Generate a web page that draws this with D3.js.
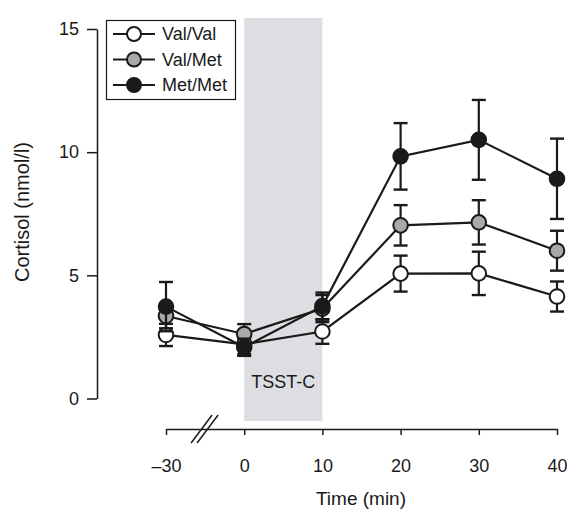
<!DOCTYPE html>
<html>
<head>
<meta charset="utf-8">
<script src="https://cdn.jsdelivr.net/npm/d3@7"></script>
<style>
  body { margin: 0; background: #fff; }
  svg text { font-family: "Liberation Sans", Arial, sans-serif; fill: #1a1a1a; }
</style>
</head>
<body>
<svg id="chart" width="567" height="511"></svg>
<script>
// 時間点（-30 は軸の切れ目の前）
const times = ['-30', '0', '10', '20', '30', '40'];
const timeLabels = ['\u201330', '0', '10', '20', '30', '40'];
const yTicks = [0, 5, 10, 15];

const groups = ['Val/Val', 'Val/Met', 'Met/Met'];
const fills = ['#ffffff', '#a9a9a9', '#1a1a1a'];

// 平均値と誤差
const valVal = [2.58, 2.2, 2.72, 5.07, 5.08, 4.14];
const valValErr = [0.45, 0.4, 0.5, 0.73, 0.88, 0.61];
const valMet = [3.35, 2.62, 3.65, 7.03, 7.15, 6.0];
const valMetErr = [0.5, 0.4, 0.55, 0.82, 0.9, 0.81];
const metMet = [3.73, 2.08, 3.75, 9.83, 10.5, 8.92];
const metMetErr = [1.0, 0.35, 0.55, 1.35, 1.62, 1.63];

const seriesValues = [valVal, valMet, metMet];
const seriesErrors = [valValErr, valMetErr, metMetErr];

const ink = '#1a1a1a';
const svg = d3.select('#chart');

const x = d3.scalePoint().domain(times).range([166, 557]);
const y = d3.scaleLinear().domain([0, 15]).range([398.5, 29]);

// TSST-C の区間
svg.append('rect')
  .attr('x', x('0'))
  .attr('width', x('10') - x('0'))
  .attr('y', 18)
  .attr('height', 403)
  .attr('fill', '#dddee1');

svg.append('text')
  .attr('x', (x('0') + x('10')) / 2)
  .attr('y', 388)
  .attr('text-anchor', 'middle')
  .style('font-size', '18px')
  .text('TSST-C');

// Y軸
const yAxis = svg.append('g')
  .attr('transform', 'translate(97,0)')
  .call(d3.axisLeft(y).tickValues(yTicks).tickSize(10).tickPadding(8).tickSizeOuter(0));
yAxis.select('.domain').attr('stroke', ink).attr('stroke-width', 1.5);
yAxis.selectAll('.tick line').attr('stroke', ink).attr('stroke-width', 1.5);
yAxis.selectAll('.tick text').style('font-size', '18px').attr('fill', ink);

// X軸
const xAxis = svg.append('g')
  .attr('transform', 'translate(0,429)')
  .call(d3.axisBottom(x).tickSize(6).tickPadding(24).tickSizeOuter(0)
    .tickFormat((d, i) => timeLabels[i]));
xAxis.select('.domain').attr('stroke', ink).attr('stroke-width', 1.5);
xAxis.selectAll('.tick line').attr('stroke', ink).attr('stroke-width', 1.5);
xAxis.selectAll('.tick text').style('font-size', '18px').attr('fill', ink);

// 軸の切れ目
const breakX = (x('-30') + x('0')) / 2;
[-3, 3].forEach(off => {
  svg.append('line')
    .attr('x1', breakX + off - 11).attr('y1', 443)
    .attr('x2', breakX + off + 10).attr('y2', 415)
    .attr('stroke', ink).attr('stroke-width', 1.5);
});

svg.append('text')
  .attr('x', 361)
  .attr('y', 505)
  .attr('text-anchor', 'middle')
  .style('font-size', '19px')
  .text('Time (min)');

svg.append('text')
  .attr('transform', 'translate(29,212) rotate(-90)')
  .attr('text-anchor', 'middle')
  .style('font-size', '20px')
  .text('Cortisol (nmol/l)');

// 系列
const line = d3.line()
  .x((d, i) => x(times[i]))
  .y(d => y(d));

groups.forEach((name, s) => {
  const vals = seriesValues[s];
  const errs = seriesErrors[s];
  const g = svg.append('g');

  vals.forEach((v, i) => {
    const cx = x(times[i]);
    const top = y(v + errs[i]);
    const bot = y(v - errs[i]);
    g.append('line')
      .attr('x1', cx).attr('x2', cx).attr('y1', top).attr('y2', bot)
      .attr('stroke', ink).attr('stroke-width', 2.2);
    [top, bot].forEach(cy => {
      g.append('line')
        .attr('x1', cx - 7).attr('x2', cx + 7).attr('y1', cy).attr('y2', cy)
        .attr('stroke', ink).attr('stroke-width', 2.4);
    });
  });

  g.append('path')
    .datum(vals)
    .attr('d', line)
    .attr('fill', 'none')
    .attr('stroke', ink)
    .attr('stroke-width', 2.2);

  g.selectAll('circle')
    .data(vals)
    .join('circle')
    .attr('cx', (d, i) => x(times[i]))
    .attr('cy', d => y(d))
    .attr('r', 7.3)
    .attr('fill', fills[s])
    .attr('stroke', ink)
    .attr('stroke-width', 2);
});

// 凡例
const legend = svg.append('g');
legend.append('rect')
  .attr('x', 106.5).attr('y', 20.5)
  .attr('width', 129).attr('height', 79)
  .attr('fill', '#fff')
  .attr('stroke', ink).attr('stroke-width', 1.2);

groups.forEach((name, s) => {
  const ly = 34 + s * 25.5;
  legend.append('line')
    .attr('x1', 113).attr('x2', 155).attr('y1', ly).attr('y2', ly)
    .attr('stroke', ink).attr('stroke-width', 2.2);
  legend.append('circle')
    .attr('cx', 134).attr('cy', ly).attr('r', 7)
    .attr('fill', fills[s])
    .attr('stroke', ink).attr('stroke-width', 2);
  legend.append('text')
    .attr('x', 162).attr('y', ly)
    .attr('dy', '0.36em')
    .style('font-size', '18px')
    .text(name);
});
</script>
</body>
</html>
